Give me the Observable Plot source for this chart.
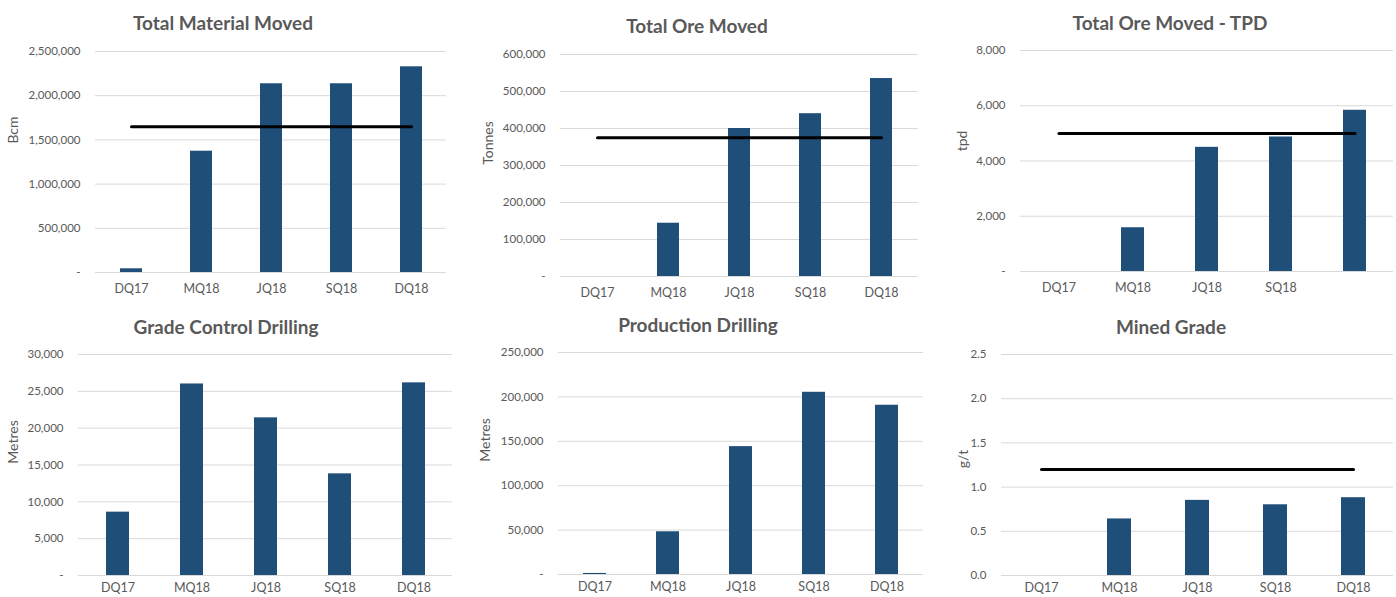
<!DOCTYPE html>
<html>
<head>
<meta charset="utf-8">
<script src="https://cdn.jsdelivr.net/npm/d3@7"></script>
<script src="https://cdn.jsdelivr.net/npm/@observablehq/plot@0.6"></script>
<style>
  body { margin: 0; background: #fff; }
  #root { position: relative; width: 1396px; height: 597px; overflow: hidden; font-family: Lato, "Open Sans", sans-serif; }
  .panel { position: absolute; }
  .title { position: absolute; font-weight: bold; font-size: 19px; color: #595959; transform: translate(-50%, -50%); white-space: nowrap; }
  .ylab { position: absolute; font-size: 14px; color: #595959; transform: translate(-50%, -50%) rotate(-90deg); white-space: nowrap; }
</style>
</head>
<body>
<div id="root"></div>
<script>
// ---- Data ----
const categories = ["DQ17", "MQ18", "JQ18", "SQ18", "DQ18"];

const materialMoved = [42000, 1372000, 2135000, 2135000, 2327000];
const materialTarget = 1650000;
const materialTicks = [0, 500000, 1000000, 1500000, 2000000, 2500000];

const oreMoved = [null, 144000, 400000, 440000, 535000];
const oreTarget = 375000;
const oreTicks = [0, 100000, 200000, 300000, 400000, 500000, 600000];

const oreTPD = [null, 1584, 4495, 4869, 5836];
const tpdTarget = 5000;
const tpdTicks = [0, 2000, 4000, 6000, 8000];
const tpdCategoryLabels = ["DQ17", "MQ18", "JQ18", "SQ18", ""];

const gradeControl = [8600, 26000, 21400, 13800, 26150];
const gradeControlTicks = [0, 5000, 10000, 15000, 20000, 25000, 30000];

const productionDrilling = [1200, 48100, 144000, 205200, 190600];
const productionTicks = [0, 50000, 100000, 150000, 200000, 250000];

const minedGrade = [null, 0.64, 0.85, 0.80, 0.88];
const gradeTarget = 1.2;
const gradeTicks = [0, 0.5, 1.0, 1.5, 2.0, 2.5];

// ---- Formats ----
const acct = d => d === 0 ? "-" : d3.format(",")(d);
const oneDec = d3.format(".1f");

// ---- Layout (positions / styles) ----
const panels = [
  { title: "Total Material Moved", ylabel: "Bcm", values: materialMoved, target: materialTarget, ticks: materialTicks, fmt: acct,
    left: 0, top: 0, width: 465, height: 300, mt: 51, mb: 28, ml: 95, mr: 19, xpad: 12, titleX: 223, titleY: 22, ylabX: 12, ylabY: 130 },
  { title: "Total Ore Moved", ylabel: "Tonnes", values: oreMoved, target: oreTarget, ticks: oreTicks, fmt: acct,
    left: 465, top: 0, width: 465, height: 300, mt: 54, mb: 24, ml: 95, mr: 12, xpad: 12, titleX: 697, titleY: 25, ylabX: 487, ylabY: 143 },
  { title: "Total Ore Moved - TPD", ylabel: "tpd", values: oreTPD, target: tpdTarget, ticks: tpdTicks, fmt: acct, xlabels: tpdCategoryLabels,
    left: 930, top: 0, width: 466, height: 300, mt: 50, mb: 29, ml: 90, mr: 3, xpad: 12, titleX: 1170, titleY: 22, ylabX: 961, ylabY: 141 },
  { title: "Grade Control Drilling", ylabel: "Metres", values: gradeControl, target: null, ticks: gradeControlTicks, fmt: acct,
    left: 0, top: 300, width: 465, height: 297, mt: 54, mb: 22, ml: 78, mr: 13, xpad: 8, titleX: 226, titleY: 326, ylabX: 12, ylabY: 442 },
  { title: "Production Drilling", ylabel: "Metres", values: productionDrilling, target: null, ticks: productionTicks, fmt: acct,
    left: 465, top: 300, width: 465, height: 297, mt: 52, mb: 23, ml: 93, mr: 7, xpad: 8, titleX: 698, titleY: 324, ylabX: 484, ylabY: 440 },
  { title: "Mined Grade", ylabel: "g/t", values: minedGrade, target: gradeTarget, ticks: gradeTicks, fmt: oneDec,
    left: 930, top: 300, width: 466, height: 297, mt: 54, mb: 22, ml: 71, mr: 3, xpad: 8, titleX: 1171, titleY: 326, ylabX: 962, ylabY: 459 }
];

const root = document.getElementById("root");

for (const p of panels) {
  const rows = categories.map((c, i) => ({ cat: c, v: p.values[i] })).filter(d => d.v != null);
  const marks = [
    Plot.gridY(p.ticks, { stroke: "#d9d9d9", strokeOpacity: 1, strokeWidth: 1 }),
    Plot.barY(rows, { x: "cat", y: "v", fill: "#1f4e79" }),
    Plot.axisY(p.ticks, { tickSize: 0, tickPadding: 15, tickFormat: p.fmt, label: null }),
    Plot.axisX({ tickSize: 0, tickPadding: p.xpad, label: null, fontSize: 12.5,
      tickFormat: p.xlabels ? (d => p.xlabels[categories.indexOf(d)]) : (d => d) })
  ];
  if (p.target != null) {
    const targetRows = categories.map(c => ({ cat: c, v: p.target }));
    marks.push(Plot.lineY(targetRows, { x: "cat", y: "v", stroke: "#000", strokeWidth: 3, strokeLinecap: "round" }));
  }
  const chart = Plot.plot({
    width: p.width,
    height: p.height,
    marginTop: p.mt, marginBottom: p.mb, marginLeft: p.ml, marginRight: p.mr,
    style: { fontFamily: "Lato, 'Open Sans', sans-serif", fontSize: "11.5px", color: "#595959", background: "transparent", overflow: "visible" },
    x: { type: "band", domain: categories, paddingInner: 0.69, paddingOuter: 0.345 },
    y: { domain: [0, p.ticks[p.ticks.length - 1]] },
    marks
  });
  const div = document.createElement("div");
  div.className = "panel";
  div.style.left = p.left + "px";
  div.style.top = p.top + "px";
  div.appendChild(chart);
  root.appendChild(div);

  const t = document.createElement("div");
  t.className = "title";
  t.textContent = p.title;
  t.style.left = p.titleX + "px";
  t.style.top = p.titleY + "px";
  root.appendChild(t);

  const yl = document.createElement("div");
  yl.className = "ylab";
  yl.textContent = p.ylabel;
  yl.style.left = p.ylabX + "px";
  yl.style.top = p.ylabY + "px";
  root.appendChild(yl);
}
</script>
</body>
</html>
